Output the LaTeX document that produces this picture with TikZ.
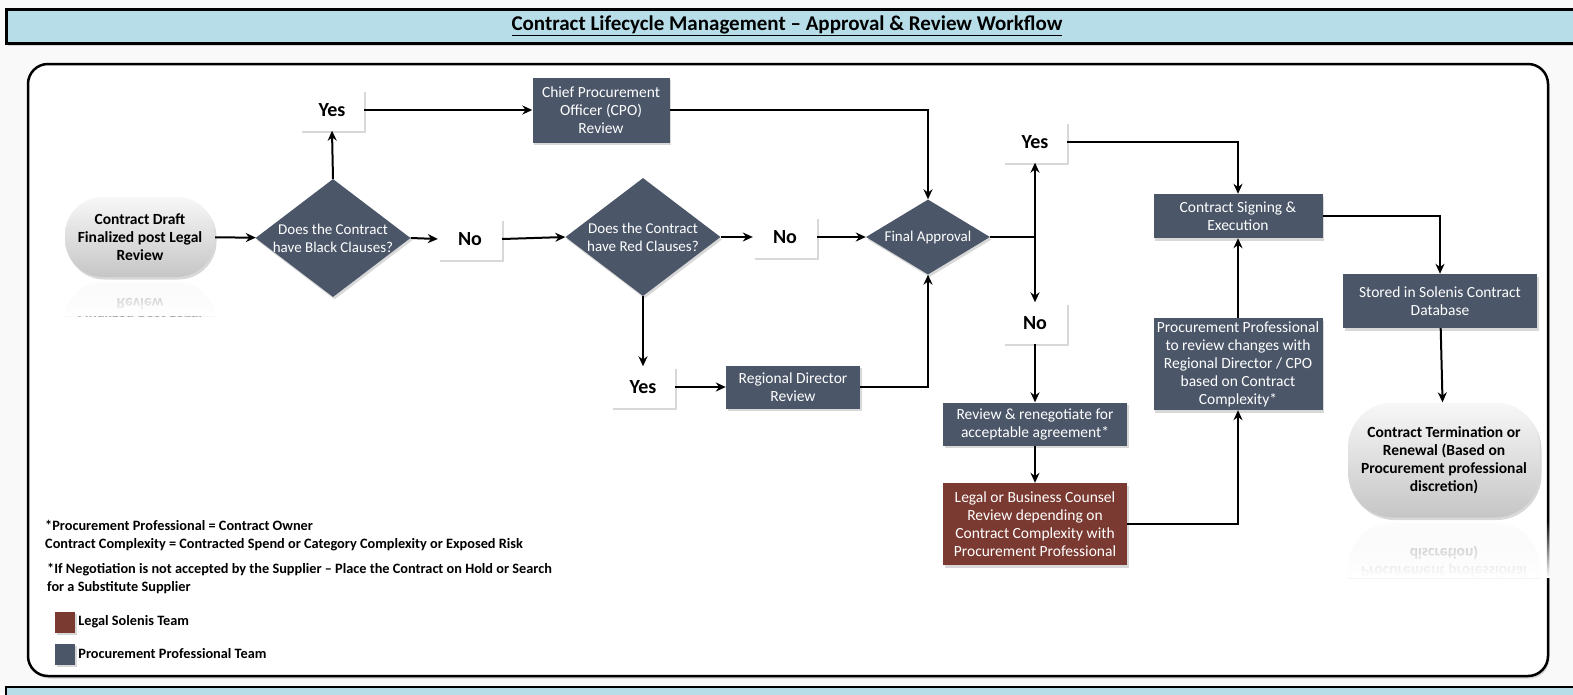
\documentclass[tikz,border=0pt]{standalone}
\usepackage{fontspec}
\setmainfont{Carlito}
\usetikzlibrary{arrows.meta, positioning, shapes.geometric, shadows, calc, fadings}
\definecolor{SlateBox}{HTML}{4B5669}
\definecolor{LegalBrown}{HTML}{7B3A31}
\definecolor{TitleBlue}{HTML}{B7DEE8}

\begin{document}
\begin{tikzpicture}[x=1pt, y=-1pt, >=Stealth,
  flow/.style={-{Stealth[length=10pt,width=9pt]}, line width=2pt},
  link/.style={line width=2pt},
  boxshadow/.style={drop shadow={shadow xshift=1.5pt, shadow yshift=-2.5pt, opacity=0.25, fill=black!60}},
  procbox/.style={rectangle, fill=SlateBox, text=white, align=center, font=\fontsize{15.5}{18}\selectfont, inner sep=1pt, boxshadow},
  legalbox/.style={procbox, fill=LegalBrown},
  decision/.style={diamond, fill=SlateBox, text=white, align=center, font=\fontsize{15}{18}\selectfont, inner sep=-5pt, aspect=1.3, boxshadow},
  answer/.style={rectangle, fill=white, minimum width=64pt, minimum height=41pt, font=\bfseries\fontsize{20}{22}\selectfont, boxshadow},
  terminal/.style={rectangle, top color=gray!6, bottom color=gray!45, align=center, font=\bfseries\fontsize{15.5}{18}\selectfont, boxshadow},
  mirror/.style={rectangle, top color=gray!6, bottom color=gray!45, align=center, font=\bfseries\fontsize{15.5}{18}\selectfont, yscale=-1, transform shape, opacity=0.3},
  legend/.style={anchor=west, font=\bfseries\fontsize{14.3}{18}\selectfont, align=left, inner sep=0pt},
  swatch/.style={rectangle, minimum width=20pt, minimum height=21pt, inner sep=0pt, boxshadow},
]
  \useasboundingbox (0,0) rectangle (1573,694);
  \fill[gray!5] (0,0) rectangle (1573,694);

  % Title bar and frame
  \draw[line width=3pt, fill=TitleBlue, boxshadow] (6,9) rectangle (1580,43);
  \node[font=\bfseries\fontsize{21}{24}\selectfont] (title) at (787,26)
    {\underline{Contract Lifecycle Management – Approval \& Review Workflow}};
  \draw[line width=2.5pt, fill=white, rounded corners=20pt, boxshadow] (28,64) rectangle (1548,676);
  \draw[line width=2.5pt, fill=TitleBlue] (6,687) rectangle (1580,700);

  % Reflections under the rounded end nodes
  \begin{scope}
    \clip (60,281) rectangle (220,316);
    \node[mirror, rounded corners=38pt, minimum width=150pt, minimum height=80pt] (draftecho) at (140,322)
      {Contract Draft\\Finalized post Legal\\Review};
    \fill[white, path fading=north] (60,281) rectangle (220,316);
  \end{scope}
  \begin{scope}
    \clip (1340,521) rectangle (1550,578);
    \node[mirror, rounded corners=45pt, minimum width=192pt, minimum height=115pt] (termecho) at (1444,580)
      {Contract Termination or\\Renewal (Based on\\Procurement professional\\discretion)};
    \fill[white, path fading=north] (1340,521) rectangle (1550,578);
  \end{scope}

  % Left part: clause checks
  \node[terminal, rounded corners=38pt, minimum width=150pt, minimum height=80pt] (draft) at (140,237)
    {Contract Draft\\Finalized post Legal\\Review};
  \node[decision, minimum width=155pt, minimum height=118pt] (black) at (333,238)
    {Does the Contract\\have Black Clauses?};
  \node[answer] (yesblack) at (332,110) {Yes};
  \node[answer] (noblack) at (470,239) {No};
  \node[procbox, minimum width=137pt, minimum height=65pt] (cpo) at (601,110)
    {Chief Procurement\\Officer (CPO)\\Review};
  \node[decision, minimum width=155pt, minimum height=118pt] (red) at (643,237)
    {Does the Contract\\have Red Clauses?};
  \node[answer] (nored) at (785,237) {No};
  \node[answer] (yesred) at (643,387) {Yes};
  \node[procbox, minimum width=134pt, minimum height=43pt] (rd) at (793,387)
    {Regional Director\\Review};
  \node[decision, aspect=1.65, minimum width=124pt, minimum height=75pt] (final) at (928,237)
    {Final Approval};

  % Right part: signing and renegotiation
  \node[answer] (yesfinal) at (1035,142) {Yes};
  \node[answer] (nofinal) at (1035,323) {No};
  \node[procbox, minimum width=184pt, minimum height=43pt] (reneg) at (1035,424)
    {Review \& renegotiate for\\acceptable agreement*};
  \node[legalbox, minimum width=184pt, minimum height=82pt] (counsel) at (1035,524)
    {Legal or Business Counsel\\Review depending on\\Contract Complexity with\\Procurement Professional};
  \node[procbox, minimum width=169pt, minimum height=44pt] (signing) at (1238,216)
    {Contract Signing \&\\Execution};
  \node[procbox, minimum width=169pt, minimum height=92pt] (ppreview) at (1238,364)
    {Procurement Professional\\to review changes with\\Regional Director / CPO\\based on Contract\\Complexity*};
  \node[procbox, minimum width=194pt, minimum height=54pt] (stored) at (1440,301)
    {Stored in Solenis Contract\\Database};
  \node[terminal, rounded corners=45pt, minimum width=192pt, minimum height=115pt] (termination) at (1444,460)
    {Contract Termination or\\Renewal (Based on\\Procurement professional\\discretion)};

  % Connectors
  \draw[flow] (draft) -- (black);
  \draw[flow] (black.north) -- (yesblack.south);
  \draw[flow] (yesblack) -- (cpo);
  \draw[flow] (cpo.east) -| (final.north);
  \draw[flow] (black.east) -- (noblack.west);
  \draw[flow] (noblack.east) -- (red.west);
  \draw[flow] (red.east) -- (nored.west);
  \draw[flow] (nored.east) -- (final.west);
  \draw[flow] (red.south) -- (yesred.north);
  \draw[flow] (yesred) -- (rd);
  \draw[flow] (rd.east) -| (final.south);
  \coordinate (split) at (yesfinal.south |- final.east);
  \draw[link] (final.east) -- (split);
  \draw[flow] (split) -- (yesfinal.south);
  \draw[flow] (split) -- (nofinal.north);
  \draw[flow] (yesfinal.east) -| (signing.north);
  \draw[flow] (nofinal) -- (reneg);
  \draw[flow] (reneg) -- (counsel);
  \draw[flow] (counsel.east) -| (ppreview.south);
  \draw[flow] (ppreview) -- (signing);
  \draw[flow] (signing.east) -| (stored.north);
  \draw[flow] (stored) -- (termination);

  % Notes and legend
  \node[legend] (note1) at (45,536)
    {*Procurement Professional = Contract Owner\\Contract Complexity = Contracted Spend or Category Complexity or Exposed Risk};
  \node[legend] (note2) at (47,578)
    {*If Negotiation is not accepted by the Supplier – Place the Contract on Hold or Search\\for a Substitute Supplier};
  \node[swatch, fill=LegalBrown] (legalkey) at (65,622) {};
  \node[legend, right=3pt of legalkey] {Legal Solenis Team};
  \node[swatch, fill=SlateBox] (prockey) at (65,654) {};
  \node[legend, right=3pt of prockey] {Procurement Professional Team};
\end{tikzpicture}
\end{document}
